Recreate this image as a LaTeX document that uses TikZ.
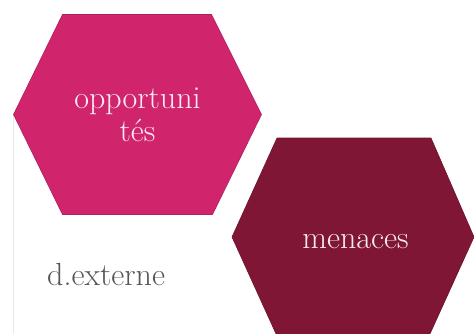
\documentclass[tikz,border=0pt]{standalone}
\usepackage{fontspec}
\usetikzlibrary{calc}
\definecolor{hexpink}{RGB}{208,36,108}
\definecolor{hexwine}{RGB}{128,22,54}
\definecolor{hextext}{RGB}{250,235,242}
\definecolor{labelgray}{RGB}{85,85,85}
\tikzset{
  hexfill/.style={line width=0.6pt, draw=#1!85!black},
  hexlabel/.style={text=hextext, font=\fontsize{32}{38}\selectfont, inner sep=0pt, anchor=base},
  plainlabel/.style={text=labelgray, font=\fontsize{32}{38}\selectfont, inner sep=0pt, anchor=base west}
}
\begin{document}
\begin{tikzpicture}[x=1pt,y=1pt]
\useasboundingbox (0,0) rectangle (474,333);
% faint page border line
\draw[gray!18, line width=0.5pt] (13,220) -- (13,0);
% hexagon 1
\coordinate (h1) at (137.5,218.5);
\filldraw[fill=hexpink, hexfill=hexpink] ($(h1)+(-124,0)$) -- ($(h1)+(-75,100)$) -- ($(h1)+(74,100)$) -- ($(h1)+(124,0)$) -- ($(h1)+(75,-100)$) -- ($(h1)+(-75,-100)$) -- cycle;
% hexagon 2
\coordinate (h2) at (353,96);
\filldraw[fill=hexwine, hexfill=hexwine] ($(h2)+(-121,0)$) -- ($(h2)+(-76,99)$) -- ($(h2)+(78,99)$) -- ($(h2)+(121,0)$) -- ($(h2)+(76,-99)$) -- ($(h2)+(-76,-99)$) -- cycle;
\node[hexlabel] (opp) at (137.5,225) {opportuni};
\node[hexlabel] (tes) at (137.5,192) {tés};
\node[hexlabel] (men) at (355.5,85) {menaces};
\node[plainlabel] (ext) at (47,48) {d.externe};
\end{tikzpicture}
\end{document}
